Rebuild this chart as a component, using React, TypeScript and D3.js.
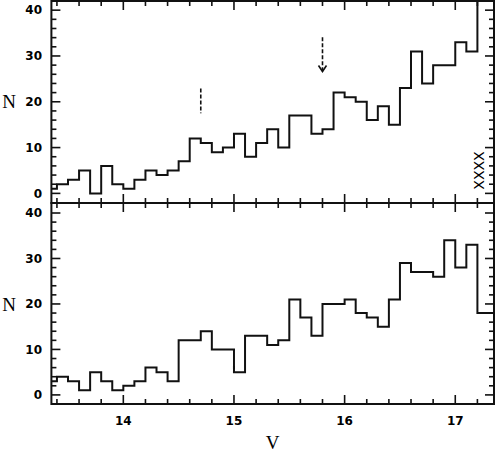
import React, { useRef, useEffect } from 'react';
import * as d3 from 'd3';

// bins of 0.1 mag starting at V = 13.3
const binStart = 13.3;
const binWidth = 0.1;
const topCounts = [1, 2, 3, 5, 0, 6, 2, 1, 3, 5, 4, 5, 7, 12, 11, 9, 10, 13, 8, 11, 14, 10, 17, 17, 13, 14, 22, 21, 20, 16, 19, 15, 23, 31, 24, 28, 28, 33, 31, 48, 48];
const bottomCounts = [3, 4, 3, 1, 5, 3, 1, 2, 3, 6, 5, 3, 12, 12, 14, 10, 10, 5, 13, 13, 11, 12, 21, 17, 13, 20, 20, 21, 18, 17, 15, 21, 29, 27, 27, 26, 34, 28, 33, 18, 18];

const xMajor = [14, 15, 16, 17];
const yMajor = [0, 10, 20, 30, 40];

// annotations in the upper panel (V, N)
const dashMark = [{ v: 14.7, n: 22.9 }, { v: 14.7, n: 17.5 }];
const arrowMark = [{ v: 15.8, n: 34.1 }, { v: 15.8, n: 26.6 }];
const crossLabel = { v: 17.21, n: 5, text: 'XXXX' };

const W = 495;
const H = 454;

const Chart = () => {
  const ref = useRef<SVGSVGElement | null>(null);

  useEffect(() => {
    if (!ref.current) return;
    const svg = d3.select(ref.current);
    svg.selectAll('*').remove();

    const x = d3.scaleLinear().domain([13.35, 17.35]).range([51.4, 494]);
    const yTop = d3.scaleLinear().domain([-2.1, 42]).range([203, 1]);
    const yBot = d3.scaleLinear().domain([-2, 42.2]).range([404, 203]);

    const xMinor = d3.range(13.4, 17.31, 0.2).map(d => +d.toFixed(1)).filter(d => !xMajor.includes(d));
    const yMinor = d3.range(2, 41, 2).filter(d => !yMajor.includes(d));

    const drawPanel = (counts: number[], y: d3.ScaleLinear<number, number>, id: string, bottomLabels: boolean) => {
      const [y0, y1] = y.range();
      const [x0, x1] = x.range();
      const g = svg.append('g');

      g.append('clipPath').attr('id', id)
        .append('rect').attr('x', x0).attr('y', y1).attr('width', x1 - x0).attr('height', y0 - y1);

      const pts = counts.map((c, i) => ({ v: binStart + i * binWidth, n: c }));
      pts.push({ v: binStart + counts.length * binWidth, n: counts[counts.length - 1] });
      const line = d3.line<{ v: number; n: number }>()
        .x(d => x(d.v)).y(d => y(d.n)).curve(d3.curveStepAfter);

      g.append('path').attr('d', line(pts))
        .attr('clip-path', `url(#${id})`)
        .attr('fill', 'none').attr('stroke', '#111').attr('stroke-width', 2);

      // ticks
      const tick = (x1_: number, y1_: number, x2_: number, y2_: number) =>
        g.append('line').attr('x1', x1_).attr('y1', y1_).attr('x2', x2_).attr('y2', y2_)
          .attr('stroke', '#111').attr('stroke-width', 1.6);
      xMajor.forEach(v => { tick(x(v), y0, x(v), y0 - 9); tick(x(v), y1, x(v), y1 + 9); });
      xMinor.forEach(v => { tick(x(v), y0, x(v), y0 - 5); tick(x(v), y1, x(v), y1 + 5); });
      yMajor.forEach(n => { tick(x0, y(n), x0 + 9, y(n)); tick(x1, y(n), x1 - 9, y(n)); });
      yMinor.forEach(n => { tick(x0, y(n), x0 + 5, y(n)); tick(x1, y(n), x1 - 5, y(n)); });

      g.append('rect').attr('x', x0).attr('y', y1).attr('width', x1 - x0).attr('height', y0 - y1)
        .attr('fill', 'none').attr('stroke', '#111').attr('stroke-width', 2);

      g.selectAll('text.yl').data(yMajor).enter().append('text')
        .attr('x', 42).attr('y', d => y(d)).attr('dy', '0.36em')
        .attr('text-anchor', 'end')
        .style('font-family', 'DejaVu Sans').style('font-weight', 'bold').style('font-size', '12px')
        .text(d => d);

      g.append('text').attr('x', 9).attr('y', y(20)).attr('dy', '0.35em')
        .attr('text-anchor', 'middle')
        .style('font-family', 'Liberation Serif').style('font-size', '19px')
        .text('N');

      if (bottomLabels) {
        g.selectAll('text.xl').data(xMajor).enter().append('text')
          .attr('x', d => x(d)).attr('y', 425).attr('text-anchor', 'middle')
          .style('font-family', 'DejaVu Sans').style('font-weight', 'bold').style('font-size', '12px')
          .text(d => d);
        g.append('text').attr('x', (x0 + x1) / 2).attr('y', 449).attr('text-anchor', 'middle')
          .style('font-family', 'Liberation Serif').style('font-size', '19px')
          .text('V');
      }
      return g;
    };

    const gTop = drawPanel(topCounts, yTop, 'clipTop', false);
    drawPanel(bottomCounts, yBot, 'clipBot', true);

    gTop.append('line')
      .attr('x1', x(dashMark[0].v)).attr('y1', yTop(dashMark[0].n))
      .attr('x2', x(dashMark[1].v)).attr('y2', yTop(dashMark[1].n))
      .attr('stroke', '#111').attr('stroke-width', 1.6).attr('stroke-dasharray', '4,2');

    gTop.append('line')
      .attr('x1', x(arrowMark[0].v)).attr('y1', yTop(arrowMark[0].n))
      .attr('x2', x(arrowMark[1].v)).attr('y2', yTop(arrowMark[1].n))
      .attr('stroke', '#111').attr('stroke-width', 1.6).attr('stroke-dasharray', '4,2');
    const ax = x(arrowMark[1].v);
    const ay = yTop(arrowMark[1].n);
    gTop.append('path')
      .attr('d', `M${ax - 4},${ay - 6}L${ax},${ay}L${ax + 4},${ay - 6}`)
      .attr('fill', 'none').attr('stroke', '#111').attr('stroke-width', 1.6);

    gTop.append('text')
      .attr('transform', `translate(${x(crossLabel.v)},${yTop(crossLabel.n)}) rotate(-90)`)
      .attr('text-anchor', 'middle').attr('dy', '0.36em')
      .style('font-family', 'DejaVu Sans').style('font-size', '14px')
      .text(crossLabel.text);
  }, []);

  return (
    <svg ref={ref} width={W} height={H}
      style={{ position: 'absolute', left: 0, top: 0, background: '#fff' }} />
  );
};

export default function App() {
  return <Chart />;
}
